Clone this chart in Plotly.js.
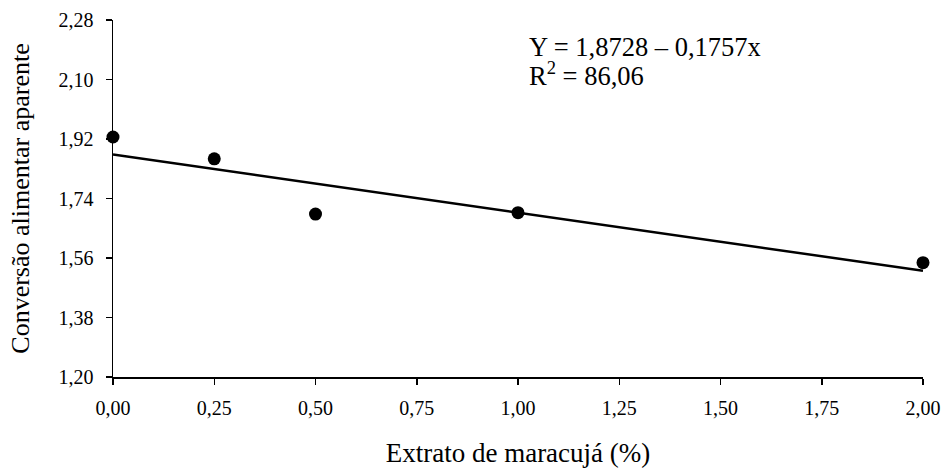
<!DOCTYPE html>
<html>
<head>
<meta charset="utf-8">
<script src="https://cdn.plot.ly/plotly-3.0.1.min.js"></script>
<style>html,body{margin:0;padding:0;background:#fff;}#chart{width:945px;height:468px;}</style>
</head>
<body>
<div id="chart"></div>
<script>
const xObs = [0, 0.25, 0.5, 1.0, 2.0];
const yObs = [1.926, 1.860, 1.693, 1.697, 1.546];
const intercept = 1.8728;
const slope = -0.1757;
const xFit = [0, 2];
const yFit = xFit.map(x => intercept + slope * x);
const xTicks = [0, 0.25, 0.5, 0.75, 1.0, 1.25, 1.5, 1.75, 2.0];
const xTickText = ["0,00", "0,25", "0,50", "0,75", "1,00", "1,25", "1,50", "1,75", "2,00"];
const yTicks = [1.20, 1.38, 1.56, 1.74, 1.92, 2.10, 2.28];
const yTickText = ["1,20", "1,38", "1,56", "1,74", "1,92", "2,10", "2,28"];

const FAM = "Liberation Serif";
function f(size) { return {family: FAM, size: size, color: "#000"}; }

const data = [
  {x: xFit, y: yFit, type: "scatter", mode: "lines", line: {color: "#000", width: 2.5}, hoverinfo: "skip", cliponaxis: false},
  {x: xObs, y: yObs, type: "scatter", mode: "markers", marker: {color: "#000", size: 13}, cliponaxis: false}
];

const layout = {
  width: 945, height: 468,
  margin: {l: 113, r: 22, t: 20, b: 91},
  paper_bgcolor: "#fff", plot_bgcolor: "#fff",
  showlegend: false,
  font: f(20),
  xaxis: {
    range: [0, 2], autorange: false,
    tickmode: "array", tickvals: xTicks, ticktext: xTickText,
    ticks: "outside", ticklen: 6, tickwidth: 1.5, tickcolor: "#000",
    ticklabelstandoff: 6,
    showline: true, linecolor: "#000", linewidth: 1.5,
    showgrid: false, zeroline: false,
    tickfont: f(20),
    title: {text: "Extrato de maracujá (%)", font: f(27), standoff: 26}
  },
  yaxis: {
    range: [1.20, 2.28], autorange: false,
    tickmode: "array", tickvals: yTicks, ticktext: yTickText,
    ticks: "outside", ticklen: 6, tickwidth: 1.5, tickcolor: "#000",
    ticklabelstandoff: 8,
    showline: true, linecolor: "#000", linewidth: 1.5,
    showgrid: false, zeroline: false,
    tickfont: f(20),
    title: {text: "Conversão alimentar aparente", font: f(26), standoff: 21}
  },
  annotations: [
    {xref: "paper", yref: "paper", x: 0.511, y: 0.925, xanchor: "left", yanchor: "middle", showarrow: false,
     align: "left", text: "Y = 1,8728 – 0,1757x", font: f(26.5)},
    {xref: "paper", yref: "paper", x: 0.511, y: 0.850, xanchor: "left", yanchor: "middle", showarrow: false,
     align: "left", text: "R<sup>2</sup> = 86,06", font: f(26.5)}
  ]
};

Plotly.newPlot("chart", data, layout, {displayModeBar: false, staticPlot: true});
</script>
</body>
</html>
